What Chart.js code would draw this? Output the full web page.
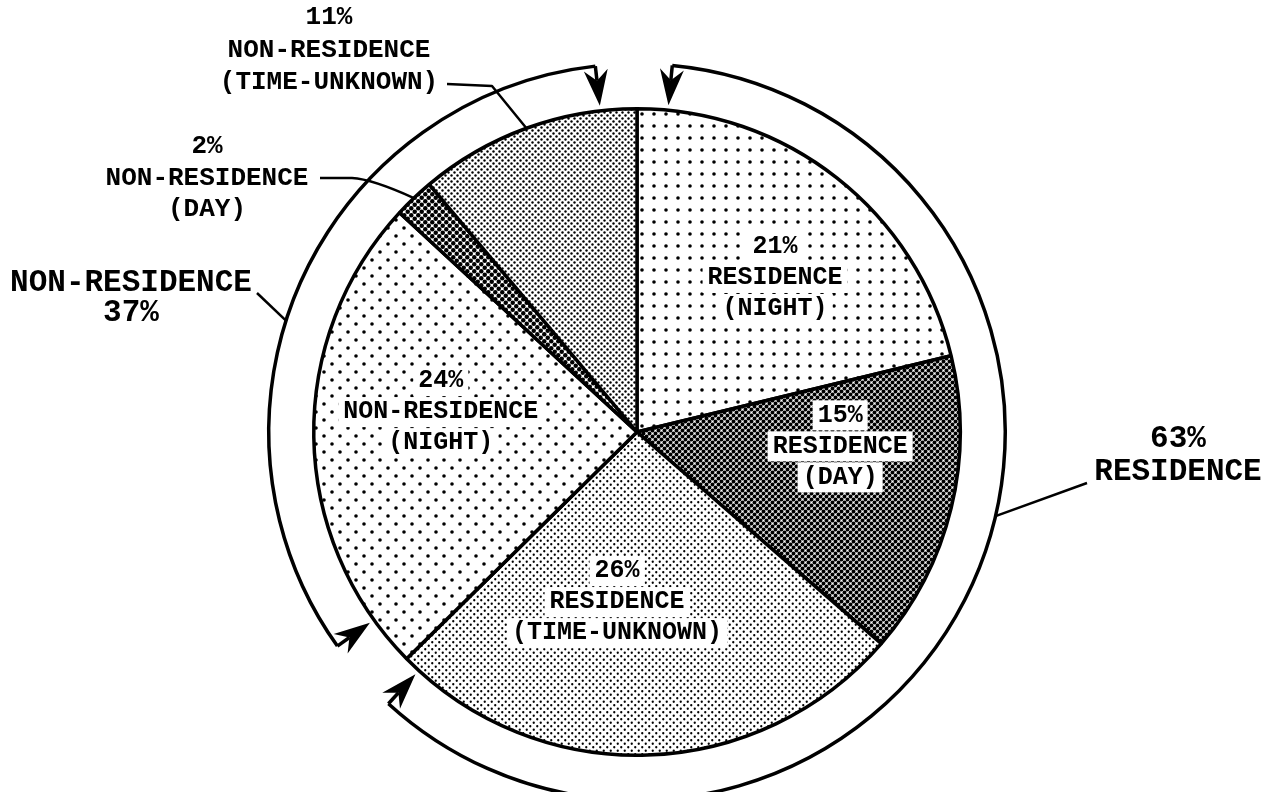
<!DOCTYPE html>
<html>
<head>
<meta charset="utf-8">
<script src="https://cdn.jsdelivr.net/npm/chart.js@4.4.1/dist/chart.umd.min.js"></script>
<style>
  html, body { margin: 0; padding: 0; background: #fff; }
  #wrap { width: 1272px; height: 792px; }
</style>
</head>
<body>
<div id="wrap"><canvas id="chart" width="1272" height="792"></canvas></div>
<script>
// slices, clockwise from 12 o'clock
const sliceNames = ['RESIDENCE', 'RESIDENCE', 'RESIDENCE', 'NON-RESIDENCE', 'NON-RESIDENCE', 'NON-RESIDENCE'];
const sliceTimes = ['(NIGHT)', '(DAY)', '(TIME-UNKNOWN)', '(NIGHT)', '(DAY)', '(TIME-UNKNOWN)'];
const sliceValues = [21, 15, 26, 24, 2, 11];

// the two bracketed groups
const groupNames = ['RESIDENCE', 'NON-RESIDENCE'];
const groupValues = [63, 37];
const groupFirst = [0, 3];
const groupLast = [2, 5];

const FONT = '"Courier New", "Liberation Mono", monospace';

// halftone fills
function dots(size, pts, r) {
  const c = document.createElement('canvas');
  c.width = size; c.height = size;
  const g = c.getContext('2d');
  g.fillStyle = '#fff';
  g.fillRect(0, 0, size, size);
  g.fillStyle = '#000';
  pts.forEach(p => {
    // wrap dots across tile edges
    for (let ox = -size; ox <= size; ox += size) {
      for (let oy = -size; oy <= size; oy += size) {
        g.beginPath();
        g.arc(p[0] + ox, p[1] + oy, r, 0, Math.PI * 2);
        g.fill();
      }
    }
  });
  return g.createPattern(c, 'repeat');
}

const ctx = document.getElementById('chart').getContext('2d');
const fills = [
  dots(12, [[6, 6]], 1.8),                    // res night
  dots(6, [[1.5, 1.5], [4.5, 4.5]], 1.95),    // res day
  dots(7, [[1.75, 1.75], [5.25, 5.25]], 1.15),// res time-unknown
  dots(16, [[4, 4], [12, 12]], 1.8),          // non-res night
  dots(7, [[1.75, 1.75], [5.25, 5.25]], 2.2), // non-res day
  dots(6, [[1.5, 1.5], [4.5, 4.5]], 1.2)      // non-res time-unknown
];

// label placement: [degrees off slice middle, fraction of radius]
const innerPos = [[3.7, 0.64], [-9.6, 0.63], [8.5, 0.53], [6.7, 0.61], null, null];

function drawLines(g, lines, x, y, size, gap, box, boldFirst) {
  g.textAlign = 'center';
  g.textBaseline = 'middle';
  const y0 = y - gap * (lines.length - 1) / 2;
  lines.forEach((t, i) => {
    g.font = (boldFirst && i === 0 ? '900 ' : 'bold ') + size + 'px ' + FONT;
    const yy = y0 + i * gap;
    if (box) {
      const w = g.measureText(t).width;
      g.fillStyle = '#fff';
      g.fillRect(x - w / 2 - 5, yy - size * 0.6, w + 10, size * 1.2);
    }
    g.fillStyle = '#000';
    g.fillText(t, x, yy);
  });
}

function arrowHead(g, cx, cy, a, rArc, rTip) {
  const ux = Math.cos(a), uy = Math.sin(a);
  const px = -uy, py = ux;
  const len = 36, hw = 12;
  const tx = cx + ux * rTip, ty = cy + uy * rTip;
  const nx = tx + ux * len * 0.7, ny = ty + uy * len * 0.7;
  g.beginPath();
  g.moveTo(cx + ux * rArc, cy + uy * rArc);
  g.lineTo(nx, ny);
  g.stroke();
  g.beginPath();
  g.moveTo(tx, ty);
  g.lineTo(tx + ux * len + px * hw, ty + uy * len + py * hw);
  g.lineTo(nx, ny);
  g.lineTo(tx + ux * len - px * hw, ty + uy * len - py * hw);
  g.closePath();
  g.fill();
}

const deg = Math.PI / 180;

const annotations = {
  id: 'annotations',
  afterDatasetsDraw(chart) {
    const g = chart.ctx;
    const arcs = chart.getDatasetMeta(0).data;
    const cx = arcs[0].x, cy = arcs[0].y, R = arcs[0].outerRadius;
    const RA = R + 45;
    const at = (a, r) => [cx + Math.cos(a) * r, cy + Math.sin(a) * r];
    const mid = i => (arcs[i].startAngle + arcs[i].endAngle) / 2;
    g.save();

    // labels inside the slices
    arcs.forEach((arc, i) => {
      if (!innerPos[i]) return;
      const p = at(mid(i) + innerPos[i][0] * deg, R * innerPos[i][1]);
      drawLines(g, [sliceValues[i] + '%', sliceNames[i], sliceTimes[i]], p[0], p[1], 25, 31, true, false);
    });

    g.strokeStyle = '#000';
    g.fillStyle = '#000';
    g.lineWidth = 3.5;
    g.lineJoin = 'round';

    // bracket arcs with arrows
    const gaps = [[5.5, -3], [9, -6.5]];
    groupFirst.forEach((f, k) => {
      const a0 = arcs[f].startAngle + gaps[k][0] * deg;
      const a1 = arcs[groupLast[k]].endAngle + gaps[k][1] * deg;
      g.beginPath();
      g.arc(cx, cy, RA, a0, a1);
      g.stroke();
      arrowHead(g, cx, cy, a0, RA, R + 5);
      arrowHead(g, cx, cy, a1, RA, R + 5);
    });

    // leaders for the small slices
    g.lineWidth = 2.5;
    let e = at(mid(5), R);
    g.beginPath();
    g.moveTo(cx - 190, cy - 348);
    g.lineTo(cx - 145, cy - 346);
    g.lineTo(e[0], e[1]);
    g.stroke();
    e = at(mid(4), R);
    g.beginPath();
    g.moveTo(cx - 317, cy - 254);
    g.lineTo(cx - 285, cy - 254);
    g.quadraticCurveTo(cx - 265, cy - 253, e[0], e[1]);
    g.stroke();

    // leaders for the groups
    e = at(-162.4 * deg, RA);
    g.beginPath();
    g.moveTo(cx - 380, cy - 139);
    g.lineTo(e[0], e[1]);
    g.stroke();
    e = at(13.2 * deg, RA);
    g.beginPath();
    g.moveTo(cx + 450, cy + 51);
    g.lineTo(e[0], e[1]);
    g.stroke();

    // outside labels
    drawLines(g, [sliceValues[5] + '%', sliceNames[5], sliceTimes[5]], cx - 308, cy - 382, 26, 32.5, false, true);
    drawLines(g, [sliceValues[4] + '%', sliceNames[4], sliceTimes[4]], cx - 430, cy - 254, 26, 31.5, false, false);
    drawLines(g, [groupNames[1], groupValues[1] + '%'], cx - 506, cy - 134, 31, 30, false, false);
    drawLines(g, [groupValues[0] + '%', groupNames[0]], cx + 541, cy + 24, 31, 33, false, false);
    g.restore();
  }
};

new Chart(ctx, {
  type: 'pie',
  data: {
    labels: sliceNames.map((n, i) => n + ' ' + sliceTimes[i]),
    datasets: [{
      data: sliceValues,
      backgroundColor: fills,
      borderColor: '#000',
      borderWidth: 3.5
    }]
  },
  options: {
    responsive: false,
    animation: false,
    layout: { padding: { left: 312, right: 310, top: 107, bottom: 35 } },
    plugins: {
      legend: { display: false },
      tooltip: { enabled: false }
    }
  },
  plugins: [annotations]
});
</script>
</body>
</html>
